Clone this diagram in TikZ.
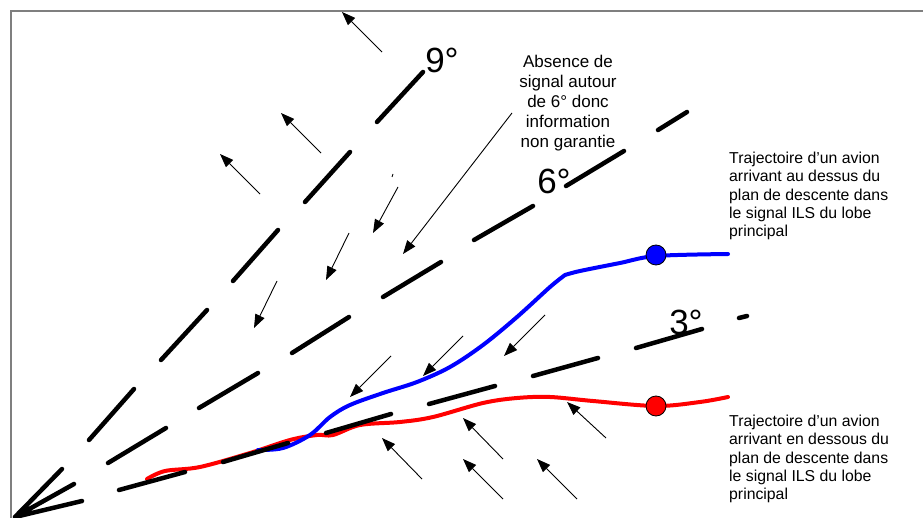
\documentclass[tikz,border=0pt]{standalone}
\usepackage{fontspec}
\setmainfont{Liberation Sans}
\usetikzlibrary{arrows.meta}
\definecolor{framegray}{HTML}{7F7F7F}
\tikzset{
  seg/.style={line width=4.5pt, line cap=round, black},
  ray/.style={line width=4.5pt, line cap=round, black},
  thinarrow/.style={line width=0.9pt, -{Triangle[length=13.5pt,width=10pt]}},
  traj/.style={line width=4pt, line cap=round, line join=round},
  dot/.style={circle, draw=black, line width=0.8pt, minimum size=20pt, inner sep=0pt},
  deg/.style={font=\fontsize{35}{42}\selectfont, inner sep=0pt},
  note/.style={font=\fontsize{17}{20}\selectfont, align=center, inner sep=0pt},
  side/.style={font=\fontsize{15.8}{18.2}\selectfont, align=left, inner sep=0pt}
}
\begin{document}
\begin{tikzpicture}[x=1pt,y=-1pt]
\useasboundingbox (0,0) rectangle (923,518);
\fill[white] (0,0) rectangle (923,518);
% frame
\draw[framegray, line width=1.3pt] (11,518) -- (11,11) -- (923,11);
% trajectories (under the dashed glide lines)
\draw[traj, red] plot[smooth, tension=0.55] coordinates {(147,479) (165,471) (200,467) (250,453) (290,440) (317,435) (333,435) (360,425) (400,422) (433,417) (483,403) (517,398) (550,397) (593,401) (656,406) (700,402) (728,397)};
\draw[traj, blue] plot[smooth, tension=0.55] coordinates {(258,450) (283,448) (310,435) (330,417) (350,405) (383,393) (417,382) (450,367) (483,345) (517,317) (550,287) (565,275)}
  -- plot[smooth, tension=0.55] coordinates {(565,275) (580,271) (620,263) (656,256) (728,254)};
% rays at origin
\coordinate (O) at (15,517);
\coordinate (r1) at (62,469);
\coordinate (r2) at (74,484);
\coordinate (r3) at (82,501);
\draw[ray] (O) -- (r1) (O) -- (r2) (O) -- (r3);
% 9 deg line
\draw[seg] (89,440)--(134,389) (161,360)--(207,310) (233,281)--(278,230)
  (305,202)--(350,152) (377,122)--(423,72);
% 6 deg line
\draw[seg] (108,463)--(166,428) (199,408)--(258,373) (292,353)--(349,317)
  (383,297)--(441,262) (474,240)--(533,206) (566,186)--(624,151) (658,130)--(687,112);
% 3 deg line
\draw[seg] (119,490)--(185,472) (223,462)--(288,443) (326,433)--(391,414)
  (429,404)--(495,386) (533,376)--(598,358) (636,348)--(702,329) (739,318)--(747,316);
% labels
\node[deg] (l9) at (442,60) {9°};
\node[deg] (l6) at (554,181) {6°};
\node[deg] (l3) at (686,322) {3°};
% aircraft dots
\node[dot, fill=blue] (pb) at (656,255) {};
\node[dot, fill=red] (pr) at (656,406) {};
% thin arrows
\draw[thinarrow] (382,52) -- (342,12);
\draw[thinarrow] (321,153) -- (281,113);
\draw[thinarrow] (260,194) -- (220,154);
\draw[thinarrow] (398,187) -- (373,233);
\draw[line width=0.8pt] (393,174) -- (392,177);
\draw[thinarrow] (349,233) -- (326,280);
\draw[thinarrow] (277,281) -- (254,328);
\draw[thinarrow] (463,336) -- (423,376);
\draw[thinarrow] (545,315) -- (504,356);
\draw[thinarrow] (391,356) -- (350,397);
\draw[thinarrow] (422,479) -- (382,438);
\draw[thinarrow] (606,438) -- (567,402);
\draw[thinarrow] (503,459) -- (463,418);
\draw[thinarrow] (503,499) -- (463,459);
\draw[thinarrow] (577,499) -- (537,459);
% note
\node[note, anchor=north] (note) at (568,55) {Absence de\\signal autour\\de 6° donc\\information\\non garantie};
\coordinate (ctail) at (512,113);
\coordinate (chead) at (403,254);
\draw[thinarrow] (ctail) -- (chead);
% side texts
\node[side, anchor=north west] (above) at (729,152) {Trajectoire d’un avion\\arrivant au dessus du\\plan de descente dans\\le signal ILS du lobe\\principal};
\node[side, anchor=north west] (below) at (729,415) {Trajectoire d’un avion\\arrivant en dessous du\\plan de descente dans\\le signal ILS du lobe\\principal};
\end{tikzpicture}
\end{document}
